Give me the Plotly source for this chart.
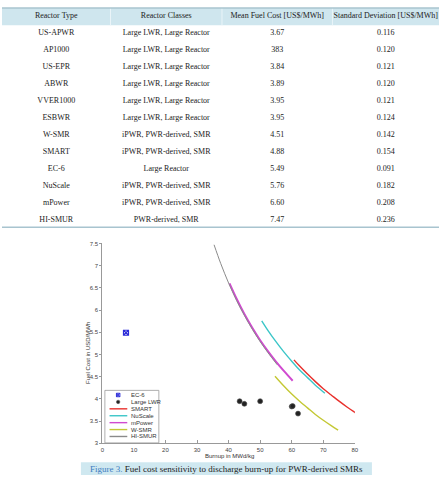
import plotly.graph_objects as go

W, H = 443, 477
NB = "\u00a0"

# ---------------- table data ----------------
reactor_types = ["US-APWR", "AP1000", "US-EPR", "ABWR", "VVER1000", "ESBWR",
                 "W-SMR", "SMART", "EC-6", "NuScale", "mPower", "HI-SMUR"]
reactor_classes = ["Large LWR, Large Reactor"] * 6 + [
    "iPWR, PWR-derived, SMR", "iPWR, PWR-derived, SMR", "Large Reactor",
    "iPWR, PWR-derived, SMR", "iPWR, PWR-derived, SMR", "PWR-derived, SMR"]
mean_cost_labels = ["3.67", "383", "3.84", "3.89", "3.95", "3.95",
                    "4.51", "4.88", "5.49", "5.76", "6.60", "7.47"]
std_dev_labels = ["0.116", "0.120", "0.121", "0.120", "0.121", "0.124",
                  "0.142", "0.154", "0.091", "0.182", "0.208", "0.236"]
header_labels = ["Reactor Type", "Reactor Classes",
                 "Mean Fuel Cost [US$/MWh]", "Standard Deviation [US$/MWh]"]

# ---------------- chart data ----------------
ec6_burnup = [7.5]
ec6_cost = [5.49]
lwr_burnup = [43.5, 45.0, 50.0, 60.0, 60.3, 62.0]
lwr_cost = [3.95, 3.89, 3.95, 3.83, 3.84, 3.67]

smart_x = [60.7, 62.5, 65.0, 67.5, 70.0, 72.5, 75.0, 77.5, 80.0, 80.7]
smart_y = [4.88, 4.74, 4.56, 4.39, 4.23, 4.09, 3.95, 3.82, 3.70, 3.67]
nuscale_x = [50.5, 52.5, 55.0, 57.5, 60.0, 62.5, 65.0, 67.5, 70.5]
nuscale_y = [5.76, 5.54, 5.29, 5.06, 4.85, 4.65, 4.48, 4.31, 4.13]
mpower_x = [40.3, 42.5, 45.0, 47.5, 50.0, 52.5, 55.0, 57.5, 60.3]
mpower_y = [6.60, 6.26, 5.91, 5.60, 5.32, 5.07, 4.84, 4.63, 4.41]
wsmr_x = [54.7, 57.5, 60.0, 62.5, 65.0, 67.5, 70.0, 72.5, 74.7]
wsmr_y = [4.51, 4.29, 4.11, 3.95, 3.80, 3.65, 3.52, 3.40, 3.30]
hismur_x = [35.4, 37.5, 40.0, 42.5, 45.0, 47.5, 50.0, 52.5, 55.4]
hismur_y = [7.47, 7.05, 6.61, 6.22, 5.88, 5.57, 5.29, 5.04, 4.77]

x_ticks = [0, 10, 20, 30, 40, 50, 60, 70, 80]
y_ticks = [3, 3.5, 4, 4.5, 5, 5.5, 6, 6.5, 7, 7.5]

legend_names = ["EC-6", "Large LWR", "SMART", "NuScale", "mPower", "W-SMR", "HI-SMUR"]

C_RED = "#e8302c"
C_CYAN = "#3cc6c8"
C_MAG = "#d04ad0"
C_YEL = "#c4c834"
C_GRAY = "#8a8a8a"
C_BLUE = "#2a2ad8"
HEADER_BG = "#cfe6ee"
CLEAR = "rgba(0,0,0,0)"


def px(x):
    return x / W


def py(y):
    return 1 - y / H


def nowrap(items):
    return [s.replace(" ", NB) for s in items]


fig = go.Figure()

# ---------------- table ----------------
fig.add_trace(go.Table(
    domain=dict(x=[0, 1], y=[py(227), py(1.5)]),
    columnwidth=[110, 113, 112, 108],
    header=dict(values=nowrap(header_labels), height=17, fill_color=CLEAR,
                line=dict(color=CLEAR, width=0), align="center",
                font=dict(family="Liberation Serif", size=8, color="#222")),
    cells=dict(values=[nowrap(reactor_types), nowrap(reactor_classes),
                       mean_cost_labels, std_dev_labels],
               height=17, fill_color=CLEAR,
               line=dict(color=CLEAR, width=0), align="center",
               font=dict(family="Liberation Serif", size=8, color="#222")),
))

# ---------------- chart ----------------
line_w = 1.4
fig.add_trace(go.Scatter(x=smart_x, y=smart_y, mode="lines", name="SMART",
                         line=dict(color=C_RED, width=line_w, shape="spline")))
fig.add_trace(go.Scatter(x=nuscale_x, y=nuscale_y, mode="lines", name="NuScale",
                         line=dict(color=C_CYAN, width=line_w, shape="spline")))
fig.add_trace(go.Scatter(x=mpower_x, y=mpower_y, mode="lines", name="mPower",
                         line=dict(color=C_MAG, width=2.0, shape="spline")))
fig.add_trace(go.Scatter(x=wsmr_x, y=wsmr_y, mode="lines", name="W-SMR",
                         line=dict(color=C_YEL, width=line_w, shape="spline")))
fig.add_trace(go.Scatter(x=hismur_x, y=hismur_y, mode="lines", name="HI-SMUR",
                         line=dict(color=C_GRAY, width=1.0, shape="spline")))
fig.add_trace(go.Scatter(x=ec6_burnup, y=ec6_cost, mode="markers", name="EC-6",
                         marker=dict(symbol="square-x-open", size=5,
                                     color=C_BLUE, line=dict(width=1.2, color=C_BLUE))))
fig.add_trace(go.Scatter(x=lwr_burnup, y=lwr_cost, mode="markers", name="Large LWR",
                         marker=dict(symbol="circle", size=5, color="#222",
                                     line=dict(width=0.6, color="#555"))))

axis_font = dict(family="Liberation Sans", size=6, color="#444")
fig.update_layout(
    width=W, height=H, margin=dict(l=0, r=0, t=0, b=0),
    paper_bgcolor="white", plot_bgcolor="white", showlegend=False,
    xaxis=dict(domain=[px(101.7), px(357.7)], range=[0, 80], tickvals=x_ticks,
               showgrid=False, zeroline=False, showline=True, linecolor="#999",
               linewidth=1, ticks="inside", ticklen=3, tickcolor="#999",
               tickfont=axis_font),
    yaxis=dict(domain=[py(446), py(243.5)], range=[3, 7.5], tickvals=y_ticks,
               showgrid=False, zeroline=False, showline=True, linecolor="#999",
               linewidth=1, ticks="outside", ticklen=2, tickcolor="#999",
               tickfont=axis_font),
)

shapes = []
annotations = []

# table header band, column separators and borders
shapes.append(dict(type="rect", xref="paper", yref="paper", x0=0, x1=1,
                   y0=py(22.5), y1=py(5), line=dict(width=0), fillcolor=HEADER_BG,
                   layer="below"))
for sx in (110, 223, 335):
    shapes.append(dict(type="line", xref="paper", yref="paper", x0=px(sx), x1=px(sx),
                       y0=py(22.5), y1=py(5), line=dict(color="#eaf4f8", width=1),
                       layer="below"))
shapes.append(dict(type="line", xref="paper", yref="paper", x0=0, x1=1,
                   y0=py(5), y1=py(5), line=dict(color="#a8c4cf", width=1.5)))
shapes.append(dict(type="line", xref="paper", yref="paper", x0=0, x1=1,
                   y0=py(227), y1=py(227), line=dict(color="#a8c4cf", width=1.5)))

# axis titles
annotations.append(dict(text="Burnup in MWd/kg", xref="paper", yref="paper",
                        x=px(231), y=py(458.5), showarrow=False,
                        xanchor="center", yanchor="middle",
                        font=dict(family="Liberation Sans", size=6, color="#333")))
annotations.append(dict(text="Fuel Cost in USD/MWh", xref="paper", yref="paper",
                        x=px(86.5), y=py(354), showarrow=False, textangle=-90,
                        xanchor="center", yanchor="middle",
                        font=dict(family="Liberation Sans", size=6, color="#333")))

# legend box
shapes.append(dict(type="rect", xref="paper", yref="paper",
                   x0=px(104.3), x1=px(159), y0=py(445.5), y1=py(392.3),
                   line=dict(color="#999", width=0.8), fillcolor="white"))
leg_colors = [C_BLUE, "#222", C_RED, C_CYAN, C_MAG, C_YEL, C_GRAY]
for i, name in enumerate(legend_names):
    yc = 397 + 7 * i
    if i == 0:
        shapes.append(dict(type="rect", xref="paper", yref="paper",
                           x0=px(116), x1=px(119.5), y0=py(yc + 1.75), y1=py(yc - 1.75),
                           line=dict(color=C_BLUE, width=1)))
        shapes.append(dict(type="line", xref="paper", yref="paper",
                           x0=px(116), x1=px(119.5), y0=py(yc + 1.75), y1=py(yc - 1.75),
                           line=dict(color=C_BLUE, width=1)))
        shapes.append(dict(type="line", xref="paper", yref="paper",
                           x0=px(116), x1=px(119.5), y0=py(yc - 1.75), y1=py(yc + 1.75),
                           line=dict(color=C_BLUE, width=1)))
    elif i == 1:
        shapes.append(dict(type="circle", xref="paper", yref="paper",
                           x0=px(116), x1=px(119.5), y0=py(yc + 1.75), y1=py(yc - 1.75),
                           line=dict(color="#555", width=0.6), fillcolor="#222"))
    else:
        shapes.append(dict(type="line", xref="paper", yref="paper",
                           x0=px(109), x1=px(127), y0=py(yc), y1=py(yc),
                           line=dict(color=leg_colors[i], width=1.4)))
    annotations.append(dict(text=name, xref="paper", yref="paper",
                            x=px(128.5), y=py(yc), xanchor="left", yanchor="middle",
                            showarrow=False,
                            font=dict(family="Liberation Sans", size=6, color="#333")))

# caption
shapes.append(dict(type="rect", xref="paper", yref="paper",
                   x0=px(80), x1=px(375), y0=py(478), y1=py(465),
                   line=dict(width=0), fillcolor="#cfe8f0", layer="below"))
annotations.append(dict(
    text='<span style="color:#3d7cc0">Figure 3.</span> Fuel cost sensitivity to discharge burn-up for PWR-derived SMRs',
    xref="paper", yref="paper", x=px(227.5), y=py(471.5), showarrow=False,
    xanchor="center", yanchor="middle",
    font=dict(family="Liberation Serif", size=9, color="#222")))

fig.update_layout(shapes=shapes, annotations=annotations)

fig.write_html("out.html", config={"displayModeBar": False},
               post_script="document.body.style.margin='0';document.body.style.overflow='hidden';")
